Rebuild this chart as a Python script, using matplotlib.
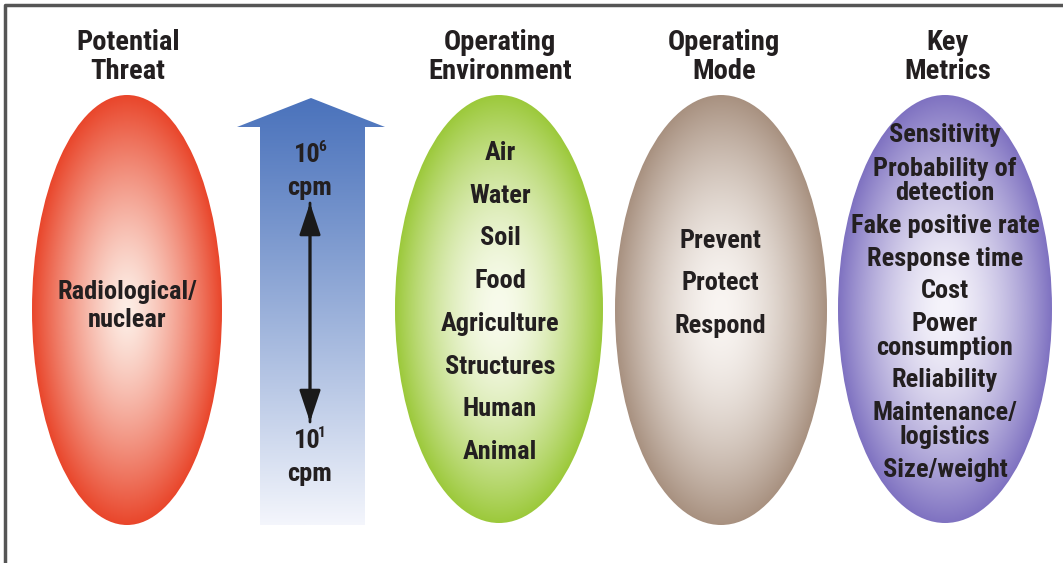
import numpy as np
import matplotlib
matplotlib.use("Agg")
import matplotlib.pyplot as plt
from matplotlib import font_manager
from matplotlib.patches import Ellipse, Polygon
from matplotlib.colors import to_rgb

# Column headers and contents
headers = ["Potential\nThreat", "Operating\nEnvironment", "Operating\nMode", "Key\nMetrics"]
threat = ["Radiological/\nnuclear"]
environment = ["Air", "Water", "Soil", "Food", "Agriculture", "Structures", "Human", "Animal"]
modes = ["Prevent", "Protect", "Respond"]
metrics = ["Sensitivity", "Probability of\ndetection", "Fake positive rate", "Response time",
           "Cost", "Power\nconsumption", "Reliability", "Maintenance/\nlogistics", "Size/weight"]
range_top = ("10", "6", "cpm")
range_bottom = ("10", "1", "cpm")

# condensed sans, falls back to DejaVu
installed = {f.name for f in font_manager.fontManager.ttflist}
FONT = [f for f in ["Roboto Condensed", "Archivo Narrow", "PT Sans Narrow"] if f in installed] + ["DejaVu Sans"]

W, H = 1063, 563
fig = plt.figure(figsize=(W / 100, H / 100), dpi=100)
ax = fig.add_axes([0, 0, 1, 1])
ax.set_xlim(0, W)
ax.set_ylim(H, 0)
ax.axis("off")

# frame (top and left edges visible)
ax.plot([5, 5, W], [H, 5, 5], color="#555555", lw=2.5, solid_capstyle="butt")


def gradient_ellipse(cx, cy, a, b, center, edge, power=1.6):
    x = np.linspace(cx - a, cx + a, 300)
    y = np.linspace(cy - b, cy + b, 600)
    X, Y = np.meshgrid(x, y)
    r = np.sqrt(((X - cx) / a) ** 2 + ((Y - cy) / b) ** 2)
    t = np.clip(r, 0, 1) ** power
    c0, c1 = np.array(to_rgb(center)), np.array(to_rgb(edge))
    img = c0 + (c1 - c0) * t[..., None]
    im = ax.imshow(img, extent=(cx - a, cx + a, cy + b, cy - b), zorder=1)
    clip = Ellipse((cx, cy), 2 * a, 2 * b, transform=ax.transData, fc="none", ec="none")
    ax.add_patch(clip)
    im.set_clip_path(clip)


gradient_ellipse(127, 310, 95, 215, "#fdeee6", "#e9462b", 1.3)
gradient_ellipse(499, 309, 104, 214, "#f8fbec", "#9cc93b", 1.7)
gradient_ellipse(721, 310, 106, 215, "#f9f5f2", "#a89180", 1.7)
gradient_ellipse(945, 309, 107, 214, "#f6f4fb", "#7f72c1", 1.6)

# big vertical arrow with fading blue
arrow_pts = [(260, 525), (260, 127), (237, 127), (311, 98), (385, 127), (365, 127), (365, 525)]
yy = np.linspace(0, 1, 400)[:, None]
top_c, bot_c = np.array(to_rgb("#4b73bc")), np.array(to_rgb("#f4f6fc"))
grad = top_c + (bot_c - top_c) * (yy[..., None] ** 1.1)
grad = np.repeat(grad, 2, axis=1)
im = ax.imshow(grad, extent=(237, 385, 525, 98), aspect="auto", zorder=1)
arrow = Polygon(arrow_pts, closed=True, fc="none", ec="none", transform=ax.transData)
ax.add_patch(arrow)
im.set_clip_path(arrow)

# double-headed arrow
ax.annotate("", xy=(310, 203), xytext=(310, 422),
            arrowprops=dict(arrowstyle="-|>,head_length=0.9,head_width=0.3", color="#1a1a1a",
                            lw=2, mutation_scale=22, shrinkA=0, shrinkB=0), zorder=3)
ax.annotate("", xy=(310, 422), xytext=(310, 203),
            arrowprops=dict(arrowstyle="-|>,head_length=0.9,head_width=0.3", color="#1a1a1a",
                            lw=2, mutation_scale=22, shrinkA=0, shrinkB=0), zorder=3)

txt = dict(family=FONT, weight="bold", color="#231f20", va="center", zorder=4)
FS = 19

# headers
for x, label in zip([128, 500, 724, 948], headers):
    ax.text(x, 57, label, fontsize=20.5, linespacing=1.05, ha="center", **txt)

ax.text(127, 306, threat[0], fontsize=FS, linespacing=1.2, ha="center", **txt)


def power_label(y, base, exp, unit):
    ax.text(321, y, base, fontsize=FS, ha="right", **txt)
    ax.text(318, y - 8, exp, fontsize=11, ha="left", **txt)
    ax.text(310, y + 33, unit, fontsize=FS, ha="center", **txt)


power_label(155, *range_top)
power_label(441, *range_bottom)

for i, label in enumerate(environment):
    ax.text(500, 153 + i * 42.7, label, fontsize=FS, ha="center", **txt)

for i, label in enumerate(modes):
    ax.text(720, 241 + i * 42.5, label, fontsize=FS, ha="center", **txt)

metric_y = [135, 181, 226, 259, 291, 336, 380, 425, 470]
for y, label in zip(metric_y, metrics):
    ax.text(945, y, label, fontsize=FS, linespacing=1.0, ha="center", **txt)

fig.savefig("out.png", dpi=100, facecolor="white")
